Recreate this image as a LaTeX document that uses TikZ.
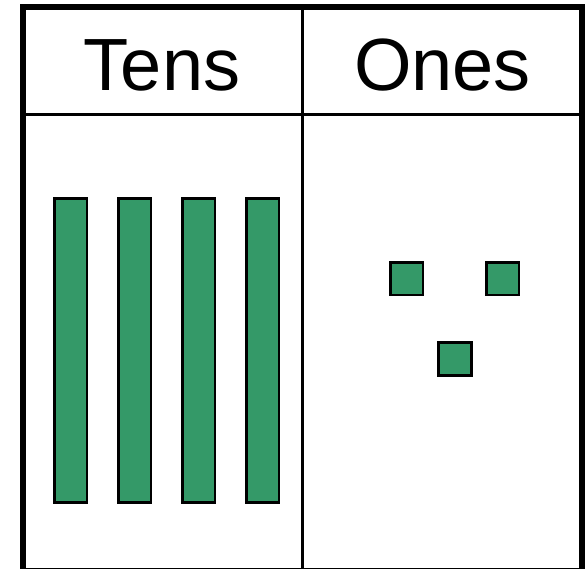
\documentclass[tikz,border=0pt]{standalone}
\usepackage{fontspec}
\setmainfont{Liberation Sans}
\definecolor{blockgreen}{RGB}{52,153,104}
\begin{document}
\begin{tikzpicture}[x=1pt,y=-1pt,
  frame/.style={draw=black,line width=6pt},
  rule/.style={draw=black,line width=2.6pt},
  block/.style={draw=black,fill=blockgreen,line width=2.6pt},
  head/.style={font=\fontsize{74}{80}\selectfont,anchor=base,inner sep=0pt}]
\useasboundingbox (0,0) rectangle (586,568);
\fill[white] (0,0) rectangle (586,568);
% header rule and divider
\draw[rule] (23,114.5) -- (581.5,114.5);
\draw[rule] (302.5,7) -- (302.5,570);
% outer frame
\draw[frame] (23,7) rectangle (581.5,571);
% headings
\node[head] (tens) at (162,90) {Tens};
\node[head] (ones) at (442.5,90) {Ones};
% tens bars
\foreach \i in {0,1,2,3}{
  \draw[block] (54.5+64*\i,198.5) rectangle (87+64*\i,502.5);
}
% ones squares
\draw[block] (390.5,262.5) rectangle (423,295);
\draw[block] (486.5,262.5) rectangle (519,295);
\draw[block] (438.5,342.5) rectangle (471.5,375.5);
\end{tikzpicture}
\end{document}
